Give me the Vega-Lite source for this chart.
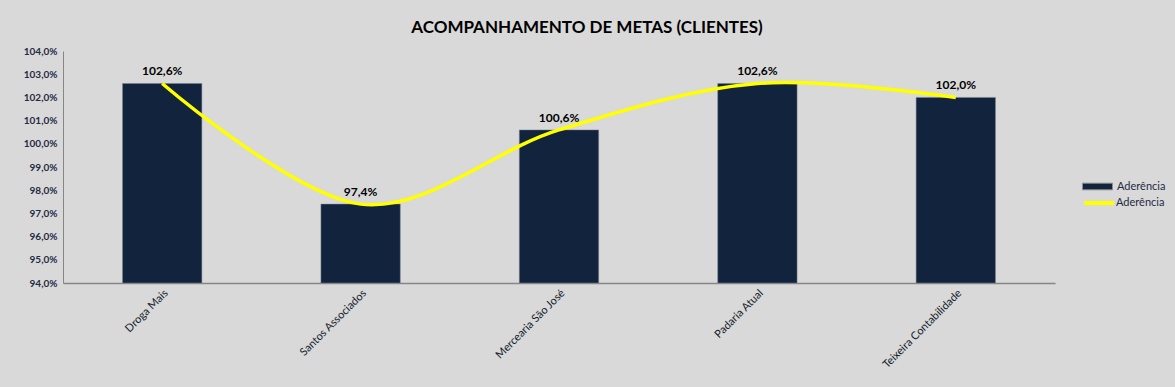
{
  "$schema": "https://vega.github.io/schema/vega-lite/v6.json",
  "autosize": {"type": "none"},
  "padding": {"left": 63, "top": 51, "right": 120, "bottom": 104},
  "width": 992,
  "height": 232,
  "background": "#d9d9d9",
  "config": {
    "view": {"stroke": null},
    "font": "Lato",
    "locale": {"number": {"decimal": ",", "thousands": ".", "grouping": [3], "currency": ["R$", ""]}}
  },
  "title": {
    "text": "ACOMPANHAMENTO DE METAS (CLIENTES)",
    "font": "Lato",
    "fontSize": 17,
    "fontWeight": "bold",
    "color": "#000000",
    "anchor": "middle",
    "frame": "group",
    "dx": 28,
    "offset": 9
  },
  "data": {
    "values": [
      {"cliente": "Droga Mais", "aderencia": 1.026},
      {"cliente": "Santos  Associados", "aderencia": 0.974},
      {"cliente": "Mercearia São José", "aderencia": 1.006},
      {"cliente": "Padaria Atual", "aderencia": 1.026},
      {"cliente": "Teixeira Contabilidade", "aderencia": 1.020}
    ]
  },
  "encoding": {
    "x": {
      "field": "cliente",
      "type": "nominal",
      "sort": null,
      "scale": {"paddingInner": 0.6, "paddingOuter": 0.3},
      "axis": {
        "title": null,
        "labelAngle": -45,
        "labelFont": "Lato",
        "labelFontSize": 11,
        "labelColor": "#141c2c",
        "labelPadding": 4,
        "labelOverlap": false,
        "ticks": false,
        "domainColor": "#868686",
        "domainWidth": 1.5
      }
    },
    "y": {
      "field": "aderencia",
      "type": "quantitative",
      "scale": {"domain": [0.94, 1.04], "zero": false, "nice": false},
      "axis": {
        "title": null,
        "format": ".1%",
        "values": [0.94, 0.95, 0.96, 0.97, 0.98, 0.99, 1.0, 1.01, 1.02, 1.03, 1.04],
        "grid": false,
        "labelFont": "Lato",
        "labelFontSize": 10,
        "labelFontWeight": "bold",
        "labelColor": "#1f2a44",
        "labelPadding": 6,
        "ticks": false,
        "domainColor": "#868686",
        "domainWidth": 1
      }
    }
  },
  "layer": [
    {
      "mark": {"type": "bar", "stroke": "#7f8591", "strokeWidth": 0.5},
      "encoding": {
        "y2": {"datum": 0.94},
        "fill": {
          "datum": "Aderência",
          "type": "nominal",
          "scale": {"range": ["#12233d"]},
          "legend": {
            "title": null,
            "orient": "none",
            "legendX": 1019,
            "legendY": 120,
            "symbolType": "M-1,-0.22H1V0.22H-1Z",
            "symbolSize": 900,
            "symbolStrokeColor": "#8c8c8c",
            "symbolStrokeWidth": 1,
            "labelFont": "Lato",
            "labelFontSize": 11,
            "labelColor": "#1f2a44",
            "labelOffset": 4
          }
        }
      }
    },
    {
      "mark": {"type": "line", "interpolate": "cardinal", "tension": 0, "strokeWidth": 3.5},
      "encoding": {
        "stroke": {
          "datum": "Aderência ",
          "type": "nominal",
          "scale": {"range": ["#ffff00"]},
          "legend": {
            "title": null,
            "orient": "none",
            "legendX": 1019,
            "legendY": 135,
            "symbolType": "stroke",
            "symbolSize": 900,
            "symbolStrokeWidth": 4,
            "labelFont": "Lato",
            "labelFontSize": 11,
            "labelColor": "#1f2a44",
            "labelOffset": 0
          }
        }
      }
    },
    {
      "mark": {"type": "text", "baseline": "bottom", "dy": -5, "font": "Lato", "fontSize": 12, "fontWeight": "bold", "color": "#000000"},
      "encoding": {
        "text": {"field": "aderencia", "type": "quantitative", "format": ".1%"}
      }
    }
  ]
}
